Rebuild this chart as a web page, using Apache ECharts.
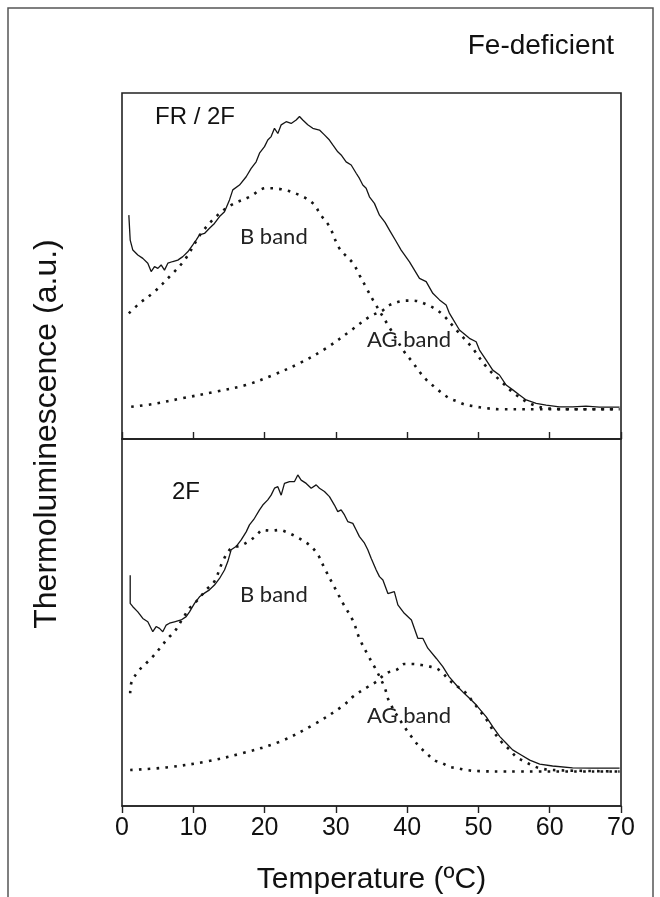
<!DOCTYPE html>
<html>
<head>
<meta charset="utf-8">
<script src="https://cdn.jsdelivr.net/npm/echarts@6/dist/echarts.min.js"></script>
<style>
html,body{margin:0;padding:0;background:#fff;}
#chart{width:660px;height:897px;}
</style>
</head>
<body>
<div id="chart"></div>
<script>
// ---- Data (x = temperature °C, y = arbitrary units) ----
var xTicks = [0, 10, 20, 30, 40, 50, 60, 70];

// Top panel: FR / 2F
var topTotal = [[0.96,64.7],[1.15,57.5],[1.52,54.6],[2.22,53.2],[2.92,52.2],[3.62,50.8],[4.09,48.4],[4.56,49.8],[5.03,49.3],[5.49,50.3],[5.96,48.8],[6.43,50.8],[7.13,51.3],[7.83,51.7],[8.53,52.7],[9.23,54.1],[9.93,56.1],[10.4,57.5],[10.87,59.0],[11.57,59.4],[12.27,60.9],[12.97,62.3],[13.68,64.3],[14.38,65.7],[15.08,69.1],[15.54,72.0],[16.48,73.4],[17.42,75.8],[18.12,78.2],[18.82,80.1],[19.29,82.6],[19.99,84.5],[20.45,86.4],[20.92,87.4],[21.39,89.8],[21.86,88.3],[22.33,90.8],[23.03,91.7],[23.73,91.2],[24.43,92.2],[24.9,93.2],[25.36,92.2],[26.06,90.8],[26.76,89.8],[27.7,89.3],[28.4,87.9],[29.1,86.4],[29.57,85.0],[30.27,83.0],[30.74,82.1],[31.44,80.1],[32.15,79.2],[32.85,76.8],[33.31,75.3],[33.78,73.4],[34.25,72.5],[34.71,70.0],[35.41,68.1],[36.12,64.7],[36.9,62.6],[37.6,60.1],[38.4,57.3],[39.16,54.6],[40.33,51.2],[41.73,46.4],[42.67,45.5],[43.6,42.1],[44.54,40.2],[45.47,38.7],[45.94,36.3],[47.34,31.5],[48.74,29.1],[49.68,28.1],[50.15,25.7],[51.09,22.8],[52.01,19.9],[52.95,18.5],[53.89,15.6],[54.82,14.2],[55.76,12.7],[56.7,11.3],[58.1,10.3],[59.5,9.8],[61.37,9.3],[63.24,9.3],[65.1,9.5],[66.98,9.2],[69.8,9.2]];
var topB = [[0.96,36.3],[2.45,39.2],[4.56,42.6],[6.66,46.9],[8.77,51.7],[11.1,59.4],[13.2,64.3],[15.3,67.6],[17.9,70.0],[20.2,72.5],[22.3,72.2],[24.9,70.5],[26.8,68.1],[27.9,64.7],[29.1,61.4],[30.5,55.1],[32.4,50.8],[33.3,47.4],[34.3,43.6],[35.2,40.2],[37.5,32.3],[39.6,25.2],[40.8,22.1],[41.7,19.5],[42.7,17.1],[43.8,15.1],[44.8,13.4],[45.9,11.8],[47.1,10.8],[48.0,10.0],[49.2,9.5],[51.1,8.9],[53.0,8.6],[56.7,8.6],[69.8,8.6]];
var topAG = [[1.29,9.3],[4.32,10.1],[8.53,11.8],[13.2,13.7],[17.4,15.6],[21.2,18.5],[24.9,21.9],[28.6,26.2],[32.4,31.8],[34.7,35.3],[36.6,37.2],[37.5,38.7],[39.9,40.0],[40.8,40.0],[42.9,38.7],[44.8,36.3],[46.9,31.5],[49.0,26.7],[51.1,20.9],[53.2,16.6],[55.3,12.7],[57.4,10.1],[59.5,8.9],[63.2,8.6],[69.8,8.6]];

// Bottom panel: 2F
var botTotal = [[1.15,62.9],[1.15,55.2],[1.52,54.3],[2.22,52.9],[2.92,51.1],[3.62,50.2],[4.32,47.5],[4.79,48.9],[5.26,48.4],[5.72,47.5],[6.2,49.3],[6.66,49.8],[7.36,50.2],[8.3,50.7],[9.0,51.6],[9.47,52.9],[10.17,55.2],[10.87,57.0],[11.57,58.0],[12.27,58.9],[12.97,60.2],[13.68,62.0],[14.38,64.3],[14.84,66.6],[15.31,69.8],[16.0,70.7],[16.72,72.5],[17.42,74.7],[17.88,76.6],[18.59,78.4],[19.29,80.7],[19.75,82.0],[20.45,83.4],[20.92,84.7],[21.39,86.6],[21.86,87.0],[22.33,84.7],[22.79,87.9],[23.5,88.4],[24.2,88.4],[24.66,90.2],[25.13,88.8],[25.84,87.9],[26.54,86.6],[27.24,87.5],[27.7,86.6],[28.4,85.7],[29.1,84.3],[29.8,82.0],[30.27,80.2],[30.74,80.7],[31.21,79.3],[31.67,77.5],[32.38,77.0],[32.85,75.2],[33.31,73.4],[34.02,71.6],[34.48,69.8],[34.95,67.5],[35.66,64.3],[36.12,62.5],[36.6,61.6],[37.3,57.9],[38.2,58.4],[38.7,54.8],[39.6,52.5],[40.6,50.7],[41.5,45.7],[42.2,45.7],[42.9,43.0],[44.1,40.2],[45.0,38.0],[45.9,35.2],[47.1,32.5],[48.0,30.7],[49.0,28.9],[49.7,27.5],[51.1,24.3],[52.0,21.6],[53.0,18.9],[53.9,17.1],[54.8,15.3],[56.0,13.9],[57.2,12.5],[58.6,11.4],[60.4,10.9],[63.2,10.4],[66.0,10.3],[69.8,10.3]];
var botB = [[1.15,30.7],[1.29,33.4],[2.22,36.6],[3.39,38.9],[4.32,40.7],[5.49,43.4],[6.43,45.7],[7.36,47.5],[8.53,51.1],[9.47,53.9],[10.6,56.1],[11.8,58.9],[12.97,61.2],[14.1,66.5],[15.3,70.2],[16.7,71.0],[17.9,72.3],[18.8,73.6],[19.75,75.2],[20.9,75.0],[22.1,75.2],[23.0,74.7],[24.4,73.4],[26.3,71.1],[27.5,68.4],[28.4,64.8],[30.0,58.9],[31.0,55.2],[32.4,50.5],[33.3,45.7],[34.5,41.1],[35.4,38.0],[36.8,32.5],[37.5,28.4],[39.6,21.6],[40.8,18.4],[41.7,16.2],[42.7,14.4],[43.8,12.5],[45.0,11.6],[45.9,10.7],[47.1,10.3],[48.3,9.8],[50.1,9.5],[53.9,9.4],[69.8,9.4]];
var botAG = [[1.15,9.8],[6.2,10.5],[11.8,12.1],[16.9,14.4],[22.1,17.5],[26.8,22.1],[31.0,27.3],[32.4,29.8],[34.5,32.5],[35.7,33.9],[37.1,36.2],[38.5,37.1],[39.6,38.7],[40.8,38.7],[42.0,38.4],[42.9,38.1],[44.1,37.5],[45.0,36.2],[45.9,34.3],[47.1,32.5],[48.3,30.7],[49.2,28.4],[50.1,26.2],[51.3,23.0],[52.3,19.8],[53.4,17.1],[54.4,15.3],[55.3,13.4],[56.5,12.1],[57.4,11.2],[58.6,10.3],[60.4,9.8],[69.8,9.4]];

var panelLabels = ['FR / 2F', '2F'];
var bandLabels = ['B band', 'AG band'];

// ---- Chart ----
var chart = echarts.init(document.getElementById('chart'), null, {renderer: 'canvas'});
var ink = '#151515';
var solidStyle = {color: ink, width: 1.3};
var dotStyle = {color: ink, width: 2.6, type: [2.6, 6.2], cap: 'butt'};
function solid(data, idx) {
  return {type: 'line', xAxisIndex: idx, yAxisIndex: idx, data: data, showSymbol: false, symbol: 'none', lineStyle: solidStyle, smooth: false, silent: true, animation: false, z: 3};
}
function dotted(data, idx) {
  return {type: 'line', xAxisIndex: idx, yAxisIndex: idx, data: data, showSymbol: false, symbol: 'none', lineStyle: dotStyle, smooth: 0.35, silent: true, animation: false, z: 2};
}
var labelFont = 'Liberation Sans, Arial, sans-serif';
var bandFont = 'Lato, "Open Sans", sans-serif';

var option = {
  backgroundColor: '#fff',
  animation: false,
  grid: [
    {left: 122, width: 499, top: 93, height: 346, show: true, borderColor: '#222', borderWidth: 1.6, backgroundColor: 'transparent'},
    {left: 122, width: 499, top: 439, height: 367, show: true, borderColor: '#222', borderWidth: 1.6, backgroundColor: 'transparent'}
  ],
  xAxis: [
    {gridIndex: 0, type: 'value', min: 0, max: 70, interval: 10,
     axisLine: {show: true, lineStyle: {color: '#222', width: 1.6}},
     axisTick: {show: true, inside: true, length: 7, lineStyle: {color: '#222', width: 1.4}},
     axisLabel: {show: false}, splitLine: {show: false}},
    {gridIndex: 1, type: 'value', min: 0, max: 70, interval: 10,
     axisLine: {show: true, lineStyle: {color: '#222', width: 1.6}},
     axisTick: {show: true, inside: false, length: 7, lineStyle: {color: '#222', width: 1.4}},
     axisLabel: {show: true, fontSize: 25, color: '#111', fontFamily: labelFont, margin: 10,
                 formatter: function (v) { return xTicks.indexOf(v) >= 0 ? String(v) : ''; }},
     splitLine: {show: false},
     name: 'Temperature (ºC)', nameLocation: 'middle', nameGap: 59,
     nameTextStyle: {fontSize: 30, color: '#111', fontFamily: labelFont}}
  ],
  yAxis: [
    {gridIndex: 0, type: 'value', min: 0, max: 100, show: false},
    {gridIndex: 1, type: 'value', min: 0, max: 100, show: false}
  ],
  series: [
    dotted(topB, 0), dotted(topAG, 0), solid(topTotal, 0),
    dotted(botB, 1), dotted(botAG, 1), solid(botTotal, 1)
  ],
  graphic: [
    {type: 'rect', shape: {x: 8, y: 8, width: 645, height: 900}, style: {fill: 'none', stroke: '#555', lineWidth: 1.5}, silent: true, z: 0},
    {type: 'text', x: 614, y: 46, style: {text: 'Fe-deficient', font: '28px ' + labelFont, fill: '#111', textAlign: 'right', textVerticalAlign: 'middle'}},
    {type: 'text', x: 47, y: 434, rotation: Math.PI / 2, style: {text: 'Thermoluminescence (a.u.)', font: '32px ' + labelFont, fill: '#111', textAlign: 'center', textVerticalAlign: 'middle'}},
    {type: 'text', x: 155, y: 117, style: {text: panelLabels[0], font: '24px ' + labelFont, fill: '#111', textVerticalAlign: 'middle'}},
    {type: 'text', x: 172, y: 492, style: {text: panelLabels[1], font: '24px ' + labelFont, fill: '#111', textVerticalAlign: 'middle'}},
    {type: 'text', x: 240, y: 237, style: {text: bandLabels[0], font: '22px ' + bandFont, fill: '#222', textVerticalAlign: 'middle'}},
    {type: 'text', x: 367, y: 340, style: {text: bandLabels[1], font: '22px ' + bandFont, fill: '#222', textVerticalAlign: 'middle'}},
    {type: 'text', x: 240, y: 595, style: {text: bandLabels[0], font: '22px ' + bandFont, fill: '#222', textVerticalAlign: 'middle'}},
    {type: 'text', x: 367, y: 716, style: {text: bandLabels[1], font: '22px ' + bandFont, fill: '#222', textVerticalAlign: 'middle'}}
  ]
};
chart.setOption(option);
</script>
</body>
</html>
